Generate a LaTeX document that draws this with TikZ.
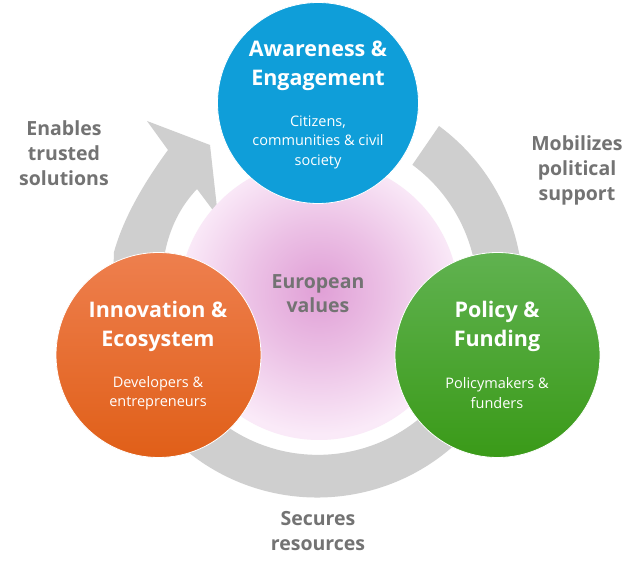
\documentclass[tikz,border=0pt]{standalone}
\usepackage{fontspec}
\setmainfont{Open Sans}
\usepackage{xcolor}
\usetikzlibrary{positioning,calc}
\definecolor{ringgray}{HTML}{CFCFCF}
\definecolor{labelgray}{HTML}{737373}
\definecolor{awareblue}{HTML}{0F9ED9}
\definecolor{orangetop}{HTML}{EE7F4E}
\definecolor{orangebot}{HTML}{E05F18}
\definecolor{greentop}{HTML}{60B250}
\definecolor{greenbot}{HTML}{3A9A18}
\definecolor{pinkmid}{HTML}{E09FD6}
\definecolor{pinkedge}{HTML}{FAEAF8}
\pgfdeclareradialshading{valueshade}{\pgfpoint{0bp}{2bp}}{%
  color(0bp)=(pinkmid); color(12bp)=(pinkmid!55!pinkedge); color(25bp)=(pinkedge); color(50bp)=(pinkedge)}
\tikzset{
  ball/.style={circle, minimum size=205pt, inner sep=0pt, draw=white, line width=0.8pt},
  head/.style={font=\fontsize{21.5}{29}\selectfont\bfseries, text=white, align=center},
  sub/.style={font=\fontsize{14.5}{19.5}\selectfont, text=white, align=center},
  side/.style={font=\fontsize{19.5}{25}\selectfont\bfseries, text=labelgray, align=center},
  band/.style={fill=ringgray}
}
\begin{document}
\begin{tikzpicture}[x=1pt,y=-1pt]
    \useasboundingbox (0,0) rectangle (641,569);
    \fill[white] (0,0) rectangle (641,569);

    % ring pieces
    \fill[band] (439,126) arc[start angle=-53.6, end angle=15, radius=206]
        -- (472,335) arc[start angle=15, end angle=-53.6, radius=160] -- cycle;
    \fill[band] (182,447) arc[start angle=131, end angle=45, radius=206]
        -- (431,408) arc[start angle=45, end angle=131, radius=160] -- cycle;
    \fill[band] (112,310) -- (114,252) .. controls (124,216) and (146,180) .. (168,150)
        -- (147,121) -- (210,145) -- (218,217) -- (197,189)
        .. controls (180,207) and (170,228) .. (165,252) -- (165,310) -- cycle;

    % centre
    \node[circle, minimum size=280pt, inner sep=0pt, shading=valueshade] (values) at (319,300) {};
    \node[side, font=\fontsize{19.5}{24}\selectfont\bfseries] (valuestext) at (318,294) {European\\values};

    % the three actors
    \node[ball, minimum size=201pt, fill=awareblue] (aware) at (318,103) {};
    \node[ball, top color=orangetop, bottom color=orangebot] (innov) at (158.5,355) {};
    \node[ball, top color=greentop, bottom color=greenbot] (policy) at (497.5,355) {};

    \node[head] (awarehead) at (318,66) {Awareness \&\\Engagement};
    \node[sub] (awaresub) at (318,142) {Citizens,\\communities \& civil\\society};
    \node[head] (innovhead) at (158,326) {Innovation \&\\Ecosystem};
    \node[sub] (innovsub) at (158,393) {Developers \&\\entrepreneurs};
    \node[head] (policyhead) at (497,326) {Policy \&\\Funding};
    \node[sub] (policysub) at (497,393) {Policymakers \&\\funders};

    % what passes between them
    \node[side] (enables) at (64,153) {Enables\\trusted\\solutions};
    \node[side] (mobilizes) at (577,170) {Mobilizes\\political\\support};
    \node[side] (secures) at (318,531) {Secures\\resources};
\end{tikzpicture}
\end{document}
